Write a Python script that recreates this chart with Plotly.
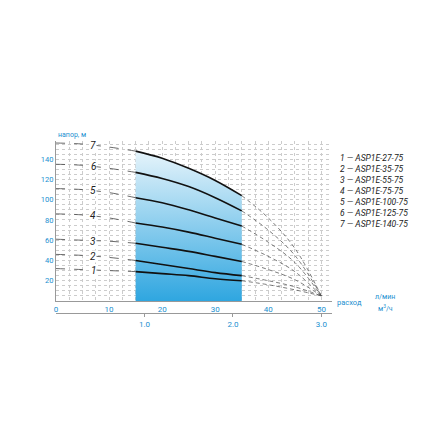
import plotly.graph_objects as go

BLUE = "#1a8fd0"
flow = [0, 5, 10, 15, 20, 25, 30, 35, 40, 45, 50]
heads = {
    "1": [32, 31, 30, 29, 27, 25, 22, 20, 16, 11, 5],
    "2": [46, 45, 43, 40, 36, 32, 28, 25, 20, 14, 5],
    "3": [61, 60, 59, 57, 53, 49, 44, 39, 31, 21, 5],
    "4": [86, 85, 82, 77, 73, 68, 62, 56, 44, 29, 5],
    "5": [111, 110, 107, 102, 97, 90, 82, 74, 58, 38, 5],
    "6": [135, 134, 131, 127, 121, 113, 102, 89, 70, 45, 5],
    "7": [156, 155, 152, 148, 141, 131, 119, 104, 82, 52, 5],
}
models = ["ASP1E-27-75", "ASP1E-35-75", "ASP1E-55-75", "ASP1E-75-75",
          "ASP1E-100-75", "ASP1E-125-75", "ASP1E-140-75"]
m3h_ticks = [1.0, 2.0, 3.0]

fig = go.Figure()

# shaded working zone under the top curve
top = heads["7"]
fig.add_trace(go.Scatter(
    x=flow[3:8], y=top[3:8], mode="lines", line=dict(width=0, shape="spline"),
    fill="tozeroy", fillgradient=dict(type="vertical", colorscale=[[0, "#2fa6e0"], [1, "#e6f4fb"]]),
    hoverinfo="skip", showlegend=False,
))

for key, ys in heads.items():
    fig.add_trace(go.Scatter(x=flow[:4], y=ys[:4], mode="lines", showlegend=False,
                             line=dict(color="#444", width=0.8, dash="dash", shape="spline")))
    fig.add_trace(go.Scatter(x=flow[3:8], y=ys[3:8], mode="lines", showlegend=False,
                             line=dict(color="#111", width=1.6, shape="spline")))
    fig.add_trace(go.Scatter(x=flow[7:], y=ys[7:], mode="lines", showlegend=False,
                             line=dict(color="#444", width=0.7, dash="4px,3px", shape="spline")))
    fig.add_annotation(x=7, y=ys[1] - 1, text="<i>" + key + "</i>", showarrow=False,
                       font=dict(size=10, color="#222"), bgcolor="white", borderpad=0)

# invisible trace on the secondary axis
fig.add_trace(go.Scatter(x=[0], y=[0], xaxis="x2", mode="markers",
                         marker=dict(opacity=0), showlegend=False, hoverinfo="skip"))

legend_text = "<br>".join(f"<i>{i + 1} — {m}</i>" for i, m in enumerate(models))
fig.add_annotation(xref="paper", yref="paper", x=1.02, y=0.94, xanchor="left", yanchor="top",
                   text=legend_text, showarrow=False, align="left",
                   font=dict(size=8.5, color="#222"))
fig.add_annotation(xref="paper", yref="paper", x=0, y=1.0, xanchor="left", yanchor="bottom",
                   text="напор, м", showarrow=False, font=dict(size=7, color=BLUE))
fig.add_annotation(xref="paper", yref="paper", x=1.01, y=0.025, xanchor="left",
                   text="расход", showarrow=False, font=dict(size=7.5, color=BLUE))
fig.add_annotation(xref="paper", yref="paper", x=1.15, y=0.06, xanchor="left",
                   text="л/мин", showarrow=False, font=dict(size=7, color=BLUE))
fig.add_annotation(xref="paper", yref="paper", x=1.16, y=-0.01, xanchor="left",
                   text="м<sup>3</sup>/ч", showarrow=False, font=dict(size=7, color=BLUE))

fig.update_layout(
    width=440, height=440, paper_bgcolor="white", plot_bgcolor="white",
    margin=dict(l=48, r=116, t=133, b=135),
    font=dict(family="Roboto, Arial", color=BLUE, size=8),
    xaxis=dict(range=[0, 52], tickvals=[0, 10, 20, 30, 40, 50], showgrid=False,
               showline=True, linecolor="#999", zeroline=False, ticks="",
               ticklabelstandoff=0,
               minor=dict(dtick=2.5, showgrid=True, gridcolor="#ccc", griddash="dot")),
    xaxis2=dict(overlaying="x", anchor="free", position=0, side="bottom",
                range=[0, 52 / 16.667], tickvals=m3h_ticks, ticktext=["1.0", "2.0", "3.0"],
                showline=True, linecolor="#999", ticks="outside", ticklen=3, tickcolor="#999",
                ticklabelstandoff=0,
                showgrid=False, tickfont=dict(color=BLUE, size=8)),
    yaxis=dict(range=[0, 158], domain=[0.07, 1], tickvals=[20, 40, 60, 80, 100, 120, 140],
               showgrid=False, showline=True, linecolor="#999", zeroline=False,
               tickfont=dict(size=7.5),
               minor=dict(dtick=5, showgrid=True, gridcolor="#ccc", griddash="dot")),
)

fig.write_html("out.html")
